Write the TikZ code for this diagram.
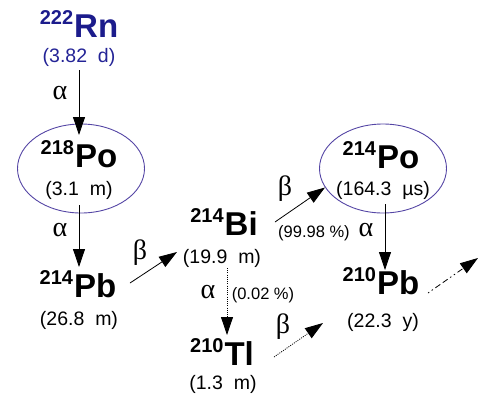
\documentclass[tikz,border=0pt]{standalone}
\usepackage{fontspec}
\setmainfont{Liberation Sans}
\newfontfamily\grk{Liberation Serif}
\usetikzlibrary{arrows.meta,shapes.geometric}
\definecolor{rnblue}{RGB}{28,28,140}
\definecolor{hlblue}{RGB}{35,35,150}
\definecolor{ellc}{RGB}{85,70,165}
\newcommand\iso[2]{\raisebox{13pt}{\fontsize{20}{20}\selectfont\bfseries #1}\kern1pt{\fontsize{33}{33}\selectfont\bfseries #2}}
\begin{document}
\begin{tikzpicture}[x=1pt,y=-1pt,
  elem/.style={inner sep=0pt,anchor=base},
  hl/.style={inner sep=0pt,font=\fontsize{19.5}{19.5}\selectfont},
  pct/.style={inner sep=0pt,font=\fontsize{16.5}{16.5}\selectfont},
  grl/.style={inner sep=0pt,font=\fontsize{28}{28}\selectfont\grk},
  ell/.style={draw=ellc,line width=0.9pt,ellipse,minimum width=127pt,minimum height=89pt,inner sep=0pt},
  arr/.style={line width=0.8pt,-{Triangle[length=18pt,width=12pt]}},
  dotarr/.style={arr,dash pattern=on 1pt off 1.2pt},
  dasharr/.style={arr,dash pattern=on 1.5pt off 3pt on 1.5pt off 3pt on 6pt off 3pt on 6pt off 3pt}]
\useasboundingbox (0,0) rectangle (483,400);
% ellipses
\node[ell] (e1) at (81,168.5) {};
\node[ell] (e2) at (383,168.5) {};
% nuclides
\node[elem,text=rnblue] (rn) at (79,37) {\iso{222}{Rn}};
\node[hl,text=hlblue] (h1) at (79,57.5) {(3.82\ \ d)};
\node[elem] (po218) at (79,167) {\iso{218}{Po}};
\node[hl] (h2) at (79,190) {(3.1\ \ m)};
\node[elem] (pb214) at (78,297) {\iso{214}{Pb}};
\node[hl] (h3) at (79,320) {(26.8\ \ m)};
\node[elem] (bi214) at (224,235) {\iso{214}{Bi}};
\node[hl] (h4) at (222,258) {(19.9\ \ m)};
\node[elem] (tl210) at (222,365) {\iso{210}{Tl}};
\node[hl] (h5) at (223,384) {(1.3\ \ m)};
\node[elem] (po214) at (381,168) {\iso{214}{Po}};
\node[hl] (h6) at (383,190) {(164.3\ \ µs)};
\node[elem] (pb210) at (381,294) {\iso{210}{Pb}};
\node[hl] (h7) at (383,322) {(22.3\ \ y)};
% labels
\node[grl] (a1) at (60,93) {α};
\node[grl] (a2) at (60,230) {α};
\node[grl] (b1) at (140,253) {β};
\node[grl] (b2) at (285,189) {β};
\node[pct] (p1) at (314,233) {(99.98 \%)};
\node[grl] (a3) at (366,230) {α};
\node[grl] (a4) at (208,292) {α};
\node[pct] (p2) at (263,295) {(0.02 \%)};
\node[grl] (b3) at (283,327) {β};
% free ends
\coordinate (out1) at (478,258);
\coordinate (out2) at (323,323);
% connectors
\draw[arr] ([shift={(0,12.5)}]h1.center) -- ([shift={(0,-32)}]po218.base);
\draw[arr] ([shift={(0,15)}]h2.center) -- ([shift={(0,-30)}]pb214.base -| h2.center);
\draw[arr] ([shift={(52,-14)}]pb214.base) -- ([shift={(-45,-6)}]h4.center);
\draw[arr] ([shift={(51,-13)}]bi214.base) -- ([shift={(-58,19)}]e2.center);
\draw[arr] ([shift={(2,14)}]h6.center) -- ([shift={(4,-24)}]pb210.base);
\draw[dasharr] ([shift={(47,-1)}]pb210.base) -- (out1);
\draw[dotarr] ([shift={(5,10)}]h4.center) -- ([shift={(5,-30)}]tl210.base);
\draw[dotarr] ([shift={(52,-8)}]tl210.base) -- (out2);
\end{tikzpicture}
\end{document}
